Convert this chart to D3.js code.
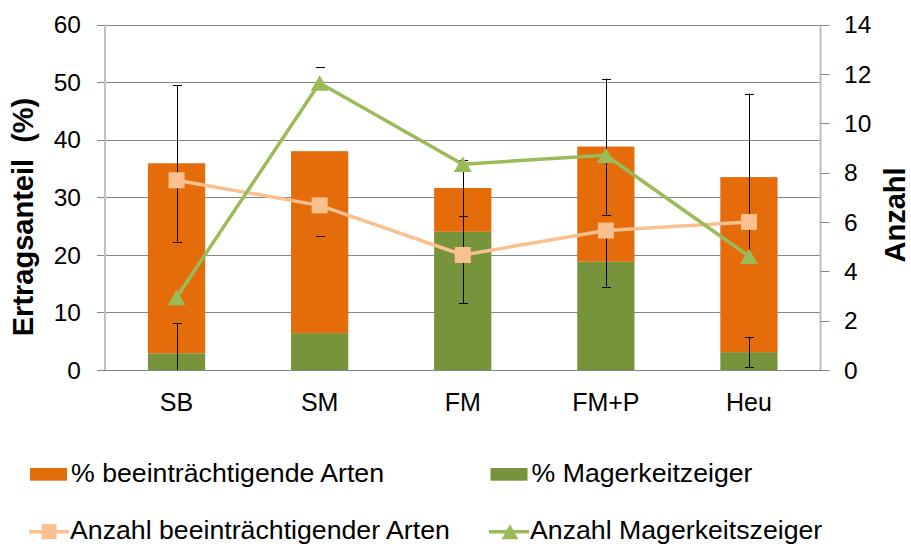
<!DOCTYPE html>
<html>
<head>
<meta charset="utf-8">
<script src="https://cdn.jsdelivr.net/npm/d3@7"></script>
<style>
  html, body { margin: 0; padding: 0; background: #fff; }
  svg { display: block; font-family: "Liberation Sans", Arial, sans-serif; }
</style>
</head>
<body>
<svg id="chart" width="911" height="544"></svg>
<script>
// ---- data ----
const categories = ["SB", "SM", "FM", "FM+P", "Heu"];
const pctMager = [2.9, 6.4, 24.0, 18.8, 3.1];            // % Magerkeitzeiger (bottom segment)
const pctBeeintr = [33.0, 31.6, 7.6, 20.0, 30.4];        // % beeinträchtigende Arten (stacked on top)
const errBeeintr = [13.6, 14.7, 4.9, 11.8, 14.5];        // error of stacked total
const errMager = [5.2, null, 12.4, 4.3, 2.6];            // error of Magerkeitzeiger
const anzBeeintr = [7.69, 6.67, 4.66, 5.65, 6.0];        // Anzahl beeinträchtigender Arten (right axis)
const anzMager = [2.94, 11.63, 8.34, 8.70, 4.61];        // Anzahl Magerkeitszeiger (right axis)
const leftTicks = [0, 10, 20, 30, 40, 50, 60];
const rightTicks = [0, 2, 4, 6, 8, 10, 12, 14];
const leftTitle = "Ertragsanteil  (%)";
const rightTitle = "Anzahl";
const legendItems = [
  { label: "% beeinträchtigende Arten", type: "rect", key: "beeintrBar" },
  { label: "% Magerkeitzeiger", type: "rect", key: "magerBar" },
  { label: "Anzahl beeinträchtigender Arten", type: "square", key: "beeintrLine" },
  { label: "Anzahl Magerkeitszeiger", type: "triangle", key: "magerLine" }
];

// ---- styles ----
const colors = {
  beeintrBar: "#E46C0A",
  magerBar: "#77933C",
  beeintrLine: "#FAC090",
  magerLine: "#9BBB59",
  grid: "#868686",
  axis: "#BFBFBF"
};

const svg = d3.select("#chart");
const plot = { left: 105, right: 820.5, top: 24.5, bottom: 370 };

const x = d3.scaleBand().domain(categories).range([plot.left, plot.right])
  .paddingInner(0.6).paddingOuter(0.3);
const yL = d3.scaleLinear().domain([0, 60]).range([plot.bottom, plot.top]);
const yR = d3.scaleLinear().domain([0, 14]).range([plot.bottom, plot.top]);

const rows = categories.map((c, i) => ({
  cat: c, mager: pctMager[i], beeintr: pctBeeintr[i],
  eB: errBeeintr[i], eM: errMager[i], aB: anzBeeintr[i], aM: anzMager[i]
}));

// gridlines (left axis), extending left as tick marks
svg.append("g").selectAll("line").data(leftTicks.filter(t => t > 0)).join("line")
  .attr("x1", plot.left - 8).attr("x2", plot.right)
  .attr("y1", d => Math.round(yL(d)) + 0.5).attr("y2", d => Math.round(yL(d)) + 0.5)
  .attr("stroke", colors.grid).attr("stroke-width", 1);

// stacked bars
const stack = d3.stack().keys(["mager", "beeintr"]);
const series = stack(rows);
const barColor = { mager: colors.magerBar, beeintr: colors.beeintrBar };
svg.append("g").selectAll("g").data(series).join("g")
  .attr("fill", s => barColor[s.key])
  .selectAll("rect").data(s => s).join("rect")
  .attr("x", d => x(d.data.cat))
  .attr("width", x.bandwidth())
  .attr("y", d => yL(d[1]))
  .attr("height", d => yL(d[0]) - yL(d[1]));

// axis lines
svg.append("line").attr("x1", plot.left).attr("x2", plot.left)
  .attr("y1", plot.top).attr("y2", plot.bottom)
  .attr("stroke", colors.axis).attr("stroke-width", 2);
svg.append("line").attr("x1", plot.right).attr("x2", plot.right)
  .attr("y1", plot.top).attr("y2", plot.bottom)
  .attr("stroke", colors.axis).attr("stroke-width", 2);
// x axis baseline
svg.append("line").attr("x1", plot.left - 8).attr("x2", plot.right + 9)
  .attr("y1", Math.round(yL(0)) + 0.5).attr("y2", Math.round(yL(0)) + 0.5)
  .attr("stroke", colors.grid).attr("stroke-width", 1);
// right axis ticks
svg.append("g").selectAll("line").data(rightTicks.filter(t => t > 0)).join("line")
  .attr("x1", plot.right).attr("x2", plot.right + 9)
  .attr("y1", d => Math.round(yR(d)) + 0.5).attr("y2", d => Math.round(yR(d)) + 0.5)
  .attr("stroke", colors.grid).attr("stroke-width", 1);

// error bars
const cap = 4.5;
function errBar(g, cx, center, err, showStem) {
  const lo = Math.max(0, center - err), hi = center + err;
  const xs = Math.round(cx) + 0.5;
  if (showStem) {
    g.append("line").attr("x1", xs).attr("x2", xs)
      .attr("y1", yL(hi)).attr("y2", yL(lo)).attr("stroke", "#000").attr("stroke-width", 1);
  }
  [hi, lo].forEach(v => {
    if (v <= 0) return;
    g.append("line").attr("x1", xs - cap).attr("x2", xs + cap)
      .attr("y1", Math.round(yL(v)) + 0.5).attr("y2", Math.round(yL(v)) + 0.5)
      .attr("stroke", "#000").attr("stroke-width", 1);
  });
}
const gErr = svg.append("g");
rows.forEach(r => {
  const cx = x(r.cat) + x.bandwidth() / 2;
  errBar(gErr, cx, r.mager + r.beeintr, r.eB, r.cat !== "SM");
  if (r.eM != null) errBar(gErr, cx, r.mager, r.eM, true);
});

// lines
const cxOf = d => x(d.cat) + x.bandwidth() / 2;
const lineB = d3.line().x(cxOf).y(d => yR(d.aB));
const lineM = d3.line().x(cxOf).y(d => yR(d.aM));
svg.append("path").datum(rows).attr("d", lineB).attr("fill", "none")
  .attr("stroke", colors.beeintrLine).attr("stroke-width", 3.5).attr("stroke-linejoin", "round");
svg.append("g").selectAll("rect").data(rows).join("rect")
  .attr("x", d => cxOf(d) - 8).attr("y", d => yR(d.aB) - 8)
  .attr("width", 16).attr("height", 16).attr("fill", colors.beeintrLine);

svg.append("path").datum(rows).attr("d", lineM).attr("fill", "none")
  .attr("stroke", colors.magerLine).attr("stroke-width", 3.5).attr("stroke-linejoin", "round");
const tri = (cx, cy, w, h) => `M${cx},${cy - h / 2}L${cx + w / 2},${cy + h / 2}L${cx - w / 2},${cy + h / 2}Z`;
svg.append("g").selectAll("path").data(rows).join("path")
  .attr("d", d => tri(cxOf(d), yR(d.aM), 18, 15.5)).attr("fill", colors.magerLine);

// tick labels
svg.append("g").selectAll("text").data(leftTicks).join("text")
  .attr("x", 81).attr("y", d => yL(d)).attr("dy", "0.36em")
  .attr("text-anchor", "end").attr("font-size", 24.5).attr("fill", "#000")
  .text(d => d);
svg.append("g").selectAll("text").data(rightTicks).join("text")
  .attr("x", 844).attr("y", d => yR(d)).attr("dy", "0.36em")
  .attr("text-anchor", "start").attr("font-size", 24.5).attr("fill", "#000")
  .text(d => d);
svg.append("g").selectAll("text").data(categories).join("text")
  .attr("x", d => x(d) + x.bandwidth() / 2).attr("y", 410.5)
  .attr("text-anchor", "middle").attr("font-size", 25).attr("fill", "#000")
  .text(d => d);

// axis titles
svg.append("text").attr("transform", "translate(33,217) rotate(-90)")
  .attr("text-anchor", "middle").attr("font-size", 29).attr("font-weight", "bold")
  .style("white-space", "pre").text(leftTitle);
svg.append("text").attr("transform", "translate(904.5,215) rotate(-90)")
  .attr("text-anchor", "middle").attr("font-size", 29).attr("font-weight", "bold")
  .text(rightTitle);

// legend
const legPos = [
  { x: 30, y: 468, ty: 481.7 },
  { x: 490.5, y: 468, ty: 481.7 },
  { x: 29, y: 531.7, ty: 539.3 },
  { x: 489, y: 531.7, ty: 539.3 }
];
const gLeg = svg.append("g");
legendItems.forEach((it, i) => {
  const p = legPos[i];
  const c = colors[it.key];
  if (it.type === "rect") {
    gLeg.append("rect").attr("x", p.x).attr("y", p.y).attr("width", 37).attr("height", 12.7).attr("fill", c);
  } else {
    gLeg.append("line").attr("x1", p.x).attr("x2", p.x + 40).attr("y1", p.y).attr("y2", p.y)
      .attr("stroke", c).attr("stroke-width", 3.5);
    if (it.type === "square") {
      gLeg.append("rect").attr("x", p.x + 20 - 7.5).attr("y", p.y - 7.5).attr("width", 15).attr("height", 15).attr("fill", c);
    } else {
      gLeg.append("path").attr("d", tri(p.x + 21, p.y, 17, 15)).attr("fill", c);
    }
  }
  gLeg.append("text").attr("x", p.x + 41)
    .attr("y", p.ty).attr("font-size", 26.7).attr("fill", "#000").text(it.label);
});
</script>
</body>
</html>
